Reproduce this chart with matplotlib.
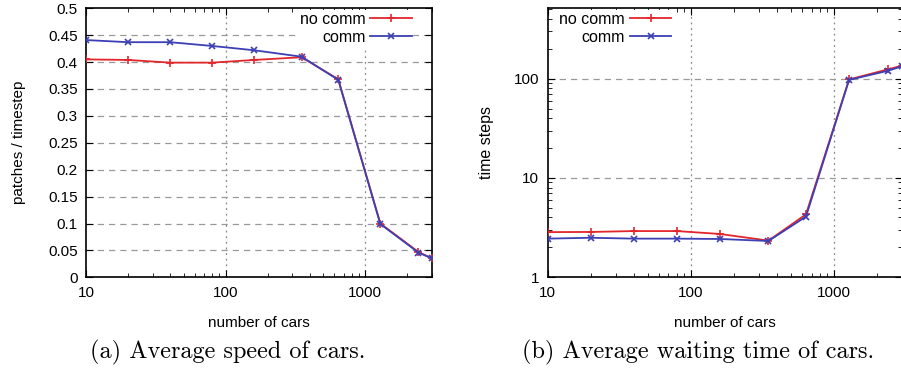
import matplotlib
matplotlib.use('Agg')
import matplotlib.pyplot as plt
from matplotlib.ticker import FixedLocator, FixedFormatter, NullFormatter, LogLocator

# data
cars = [10, 20, 40, 80, 160, 350, 640, 1280, 2400, 3000]
speed_nocomm = [0.405, 0.404, 0.399, 0.399, 0.404, 0.409, 0.368, 0.100, 0.047, 0.035]
speed_comm = [0.441, 0.437, 0.437, 0.430, 0.422, 0.410, 0.367, 0.099, 0.046, 0.035]
wait_nocomm = [2.85, 2.86, 2.92, 2.92, 2.73, 2.34, 4.3, 98, 124, 135]
wait_comm = [2.45, 2.5, 2.45, 2.45, 2.43, 2.32, 4.08, 97, 120, 133]

RED = '#e2262b'
BLUE = '#3c40b4'

plt.rcParams['font.family'] = 'Liberation Sans'
plt.rcParams['axes.linewidth'] = 1.2

fig = plt.figure(figsize=(9.01, 3.69), dpi=100)
W, H = 901.0, 369.0


def axes_px(left, right, top, bottom):
    return fig.add_axes([left / W, 1 - bottom / H, (right - left) / W, (bottom - top) / H])


def style(ax):
    ax.tick_params(which='both', direction='in', top=True, right=True, labelsize=11, pad=6)
    ax.tick_params(which='major', length=5)
    ax.tick_params(which='minor', length=3)
    ax.set_xscale('log')
    ax.set_xlim(10, 3000)
    ax.xaxis.set_major_locator(FixedLocator([10, 100, 1000]))
    ax.xaxis.set_major_formatter(FixedFormatter(['10', '100', '1000']))
    ax.xaxis.set_minor_locator(LogLocator(base=10, subs=range(2, 10)))
    ax.xaxis.set_minor_formatter(NullFormatter())
    for x in [100, 1000]:
        ax.axvline(x, color='#888888', lw=0.9, ls=(0, (1.5, 3)), zorder=1)
    ax.set_xlabel('number of cars', fontsize=11, labelpad=12)


def plot_pair(ax, y1, y2):
    ax.plot(cars, y1, color=RED, lw=1.3, marker='+', ms=6, mew=1.2, label='no comm', zorder=3)
    ax.plot(cars, y2, color=BLUE, lw=1.3, marker='x', ms=4.5, mew=1.2, label='comm', zorder=4)


def legend(ax, loc, anchor):
    leg = ax.legend(loc=loc, bbox_to_anchor=anchor, markerfirst=False, frameon=True,
                    framealpha=1, edgecolor='none', facecolor='white', fontsize=11.5,
                    handlelength=2.6, borderaxespad=0.2, labelspacing=0.2, handletextpad=0.3,
                    numpoints=1, borderpad=0.1)
    leg.set_zorder(2)
    return leg


# (a) speed
ax1 = axes_px(86, 432, 8.3, 277.3)
style(ax1)
plot_pair(ax1, speed_nocomm, speed_comm)
ax1.set_ylim(0, 0.5)
yt = [i * 0.05 for i in range(11)]
ax1.yaxis.set_major_locator(FixedLocator(yt))
ax1.yaxis.set_major_formatter(FixedFormatter(['0', '0.05', '0.1', '0.15', '0.2', '0.25', '0.3',
                                              '0.35', '0.4', '0.45', '0.5']))
for y in yt[1:-1]:
    ax1.axhline(y, color='#999999', lw=0.9, ls=(0, (5, 4)), zorder=1)
ax1.set_ylabel('patches / timestep', fontsize=11, labelpad=16)
legend(ax1, 'upper right', (0.955, 1.005))

# (b) waiting time
ax2 = axes_px(547.5, 902, 8.3, 277.3)
style(ax2)
plot_pair(ax2, wait_nocomm, wait_comm)
ax2.set_yscale('log')
ax2.set_ylim(1, 510)
ax2.yaxis.set_major_locator(FixedLocator([1, 10, 100]))
ax2.yaxis.set_major_formatter(FixedFormatter(['1', '10', '100']))
ax2.yaxis.set_minor_locator(LogLocator(base=10, subs=range(2, 10)))
ax2.yaxis.set_minor_formatter(NullFormatter())
for y in [10, 100]:
    ax2.axhline(y, color='#999999', lw=0.9, ls=(0, (5, 4)), zorder=1)
ax2.set_ylabel('time steps', fontsize=11.5, labelpad=14)
legend(ax2, 'upper left', (0.02, 1.005))

# captions
fig.text(228 / W, 1 - 352 / H, '(a) Average speed of cars.', family='cmr10', fontsize=17.5,
         ha='center', va='center')
fig.text(698 / W, 1 - 352 / H, '(b) Average waiting time of cars.', family='cmr10', fontsize=17.5,
         ha='center', va='center')

fig.savefig('out.png', dpi=100)
